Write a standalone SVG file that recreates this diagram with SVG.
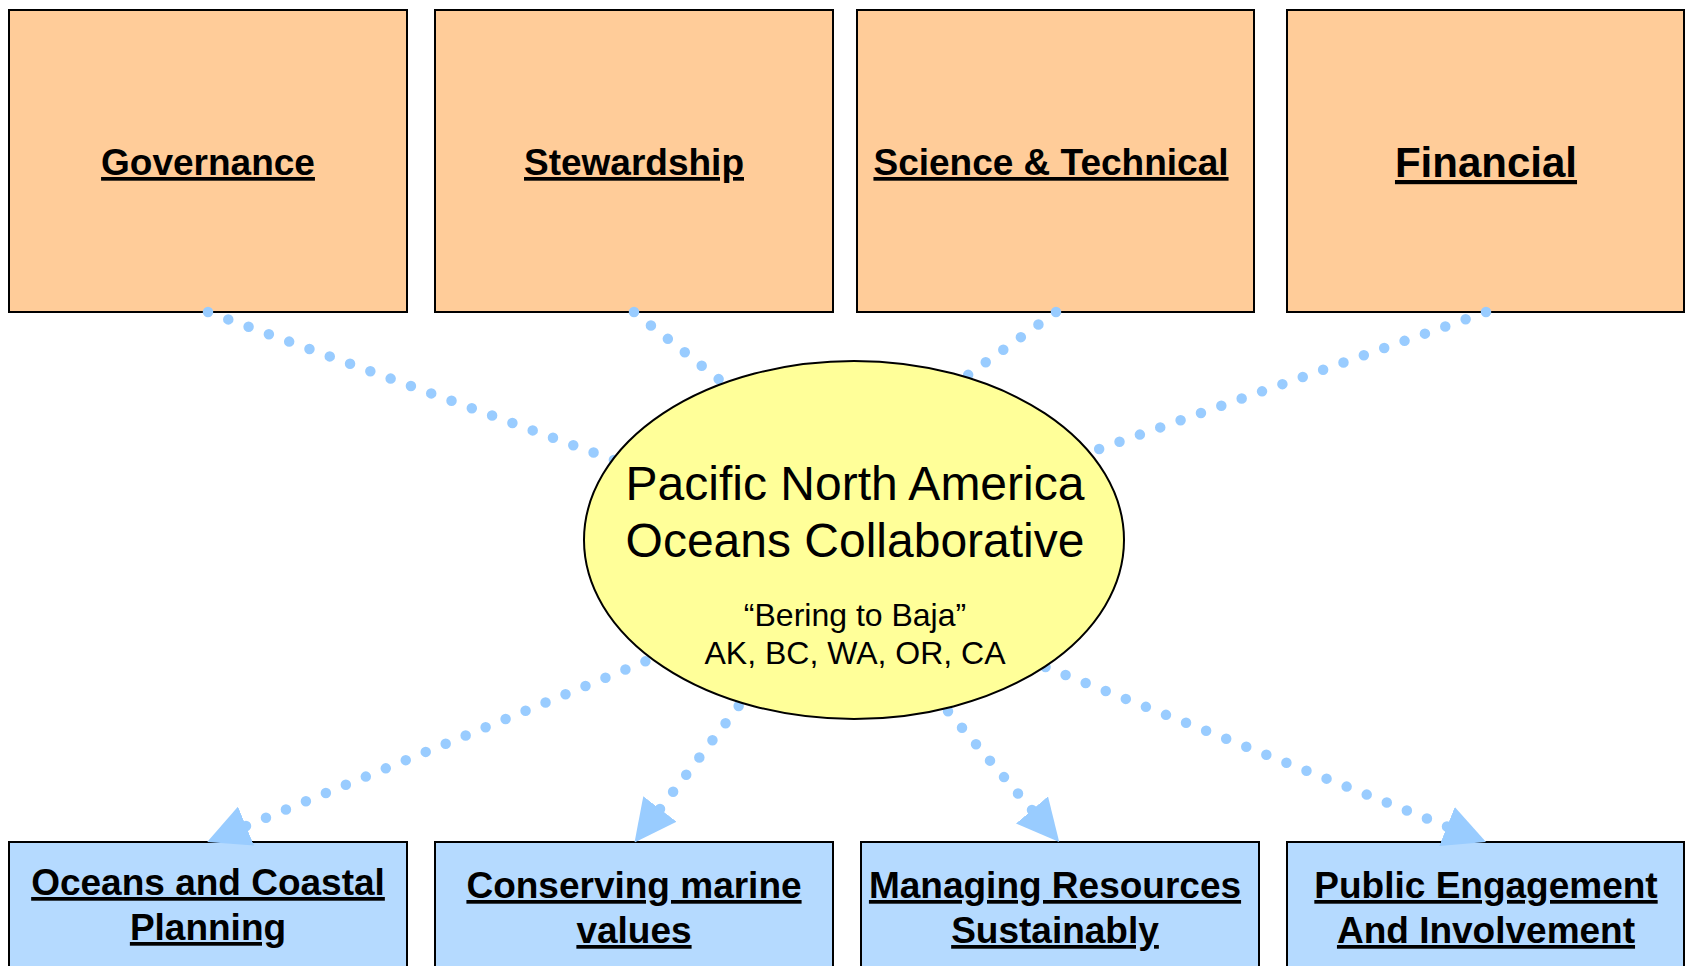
<svg xmlns="http://www.w3.org/2000/svg" width="1685" height="966" viewBox="0 0 1685 966">
<style>
.top{fill:#FFCC99;stroke:#000;stroke-width:2}
.bot{fill:#B5DAFF;stroke:#000;stroke-width:2}
.lbl{font-family:"Liberation Sans",Arial,sans-serif;font-weight:bold;font-size:37px;text-anchor:middle;text-decoration:underline;fill:#000}
.con{fill:none;stroke:#99CCFF;stroke-width:10.5;stroke-linecap:round;stroke-dasharray:0 21.6}
.ctr{font-family:"Liberation Sans",Arial,sans-serif;text-anchor:middle;fill:#000}
</style>
<defs>
<marker id="arr" viewBox="0 0 42 42" markerWidth="42" markerHeight="42" markerUnits="userSpaceOnUse" refX="0" refY="21" orient="auto-start-reverse">
<path d="M0,0 L42,21 L0,42 z" fill="#99CCFF"/>
</marker>
</defs>
<rect width="1685" height="966" fill="#fff"/>
<g id="governance"><rect class="top" x="9" y="10" width="398" height="302"/><text class="lbl" x="208" y="175">Governance</text></g>
<g id="stewardship"><rect class="top" x="435" y="10" width="398" height="302"/><text class="lbl" x="634" y="175">Stewardship</text></g>
<g id="science"><rect class="top" x="857" y="10" width="397" height="302"/><text class="lbl" x="1051" y="175">Science &amp; Technical</text></g>
<g id="financial"><rect class="top" x="1287" y="10" width="397" height="302"/><text class="lbl" x="1486" y="177" style="font-size:42px">Financial</text></g>
<g id="oceans-planning"><rect class="bot" x="9" y="842" width="398" height="140"/><text class="lbl" x="208" y="895">Oceans and Coastal</text><text class="lbl" x="208" y="940">Planning</text></g>
<g id="conserving"><rect class="bot" x="435" y="842" width="398" height="140"/><text class="lbl" x="634" y="898">Conserving marine</text><text class="lbl" x="634" y="943">values</text></g>
<g id="managing"><rect class="bot" x="861" y="842" width="398" height="140"/><text class="lbl" x="1055" y="898">Managing Resources</text><text class="lbl" x="1055" y="943">Sustainably</text></g>
<g id="public"><rect class="bot" x="1287" y="842" width="397" height="140"/><text class="lbl" x="1486" y="898">Public Engagement</text><text class="lbl" x="1486" y="943">And Involvement</text></g>
<g id="connectors">
<path class="con" d="M208,312 L640,469.5"/>
<path class="con" d="M634,312 L745,400"/>
<path class="con" d="M1056,312 L940,395"/>
<path class="con" d="M1486,312 L1040,470"/>
<path class="con" d="M246,826 L662,654.5" marker-start="url(#arr)"/>
<path class="con" d="M660,809 L757,682" marker-start="url(#arr)"/>
<path class="con" d="M1032,810 L935,696" marker-start="url(#arr)"/>
<path class="con" d="M1447,826.5 L1038,664" marker-start="url(#arr)"/>
</g>
<g id="center">
<ellipse cx="854" cy="540" rx="270" ry="179" fill="#FFFF99" stroke="#000" stroke-width="2"/>
<text class="ctr" x="855" y="500" font-size="48">Pacific North America</text>
<text class="ctr" x="855" y="557" font-size="48">Oceans Collaborative</text>
<text class="ctr" x="855" y="626" font-size="32">“Bering to Baja”</text>
<text class="ctr" x="855" y="664" font-size="32">AK, BC, WA, OR, CA</text>
</g>
</svg>
